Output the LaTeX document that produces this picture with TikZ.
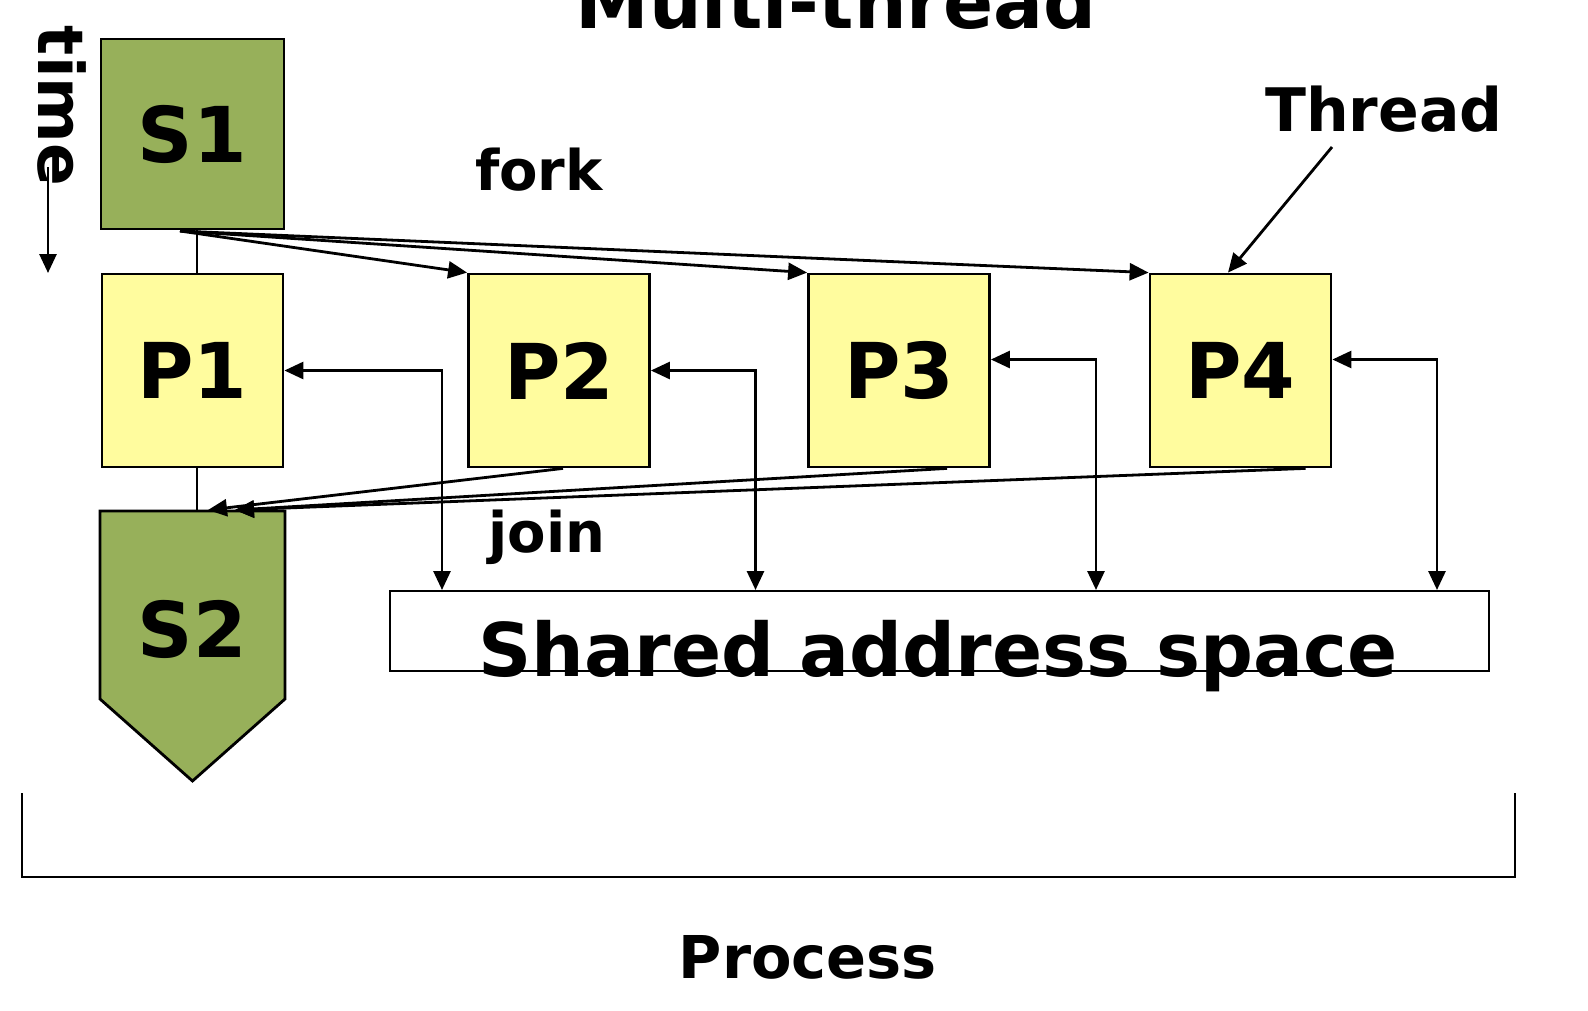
\documentclass[tikz,border=0pt]{standalone}
\usepackage{fontspec}
\setmainfont{DejaVu Sans}
\usetikzlibrary{arrows.meta}
\definecolor{seqgreen}{HTML}{97B05A}
\definecolor{thryellow}{HTML}{FFFC9E}
\begin{document}
\begin{tikzpicture}[x=1pt,y=-1pt,line width=2.8pt,
    >={Triangle[length=19pt,width=17pt]},
    seqbox/.style={draw,fill=seqgreen,minimum width=183pt,minimum height=190pt,font=\bfseries\fontsize{77}{77}\selectfont},
    thrbox/.style={draw,fill=thryellow,minimum width=181pt,minimum height=193pt,font=\bfseries\fontsize{77}{77}\selectfont},
    midlbl/.style={font=\bfseries\fontsize{56}{56}\selectfont},
    biglbl/.style={font=\bfseries\fontsize{74}{74}\selectfont}]
        \useasboundingbox (0,0) rectangle (1588,1010);

        \node (title) at (836,28) [anchor=base,biglbl] {Multi-thread};
        \node (time) at (62,106) [rotate=-90,font=\bfseries\fontsize{63}{63}\selectfont] {time};
        \coordinate (t0) at (48,167);
        \coordinate (t1) at (48,273);
        \draw[->] (t0) -- (t1);

        \node (s1) at (192.5,134) [seqbox] {S1};
        \node (p1) at (192.5,370.5) [thrbox] {P1};
        \node (p2) at (559,370.5) [thrbox] {P2};
        \node (p3) at (899,370.5) [thrbox] {P3};
        \node (p4) at (1240.5,370.5) [thrbox] {P4};

        \draw[fill=seqgreen] (100,511) -- (285,511) -- (285,699) -- (192.5,781) -- (100,699) -- cycle;
        \node (s2) at (192.5,629) [font=\bfseries\fontsize{77}{77}\selectfont] {S2};
        \coordinate (s2top) at (197,511);
        \coordinate (j1) at (208,510);
        \coordinate (j2) at (235,510);
        \coordinate (fk) at (180,231);

        \node (fork) at (539,170) [midlbl] {fork};
        \node (join) at (547,537) [midlbl] {join};

        \draw ([xshift=4.5pt]s1.south) -- ([xshift=4.5pt]p1.north);
        \draw ([xshift=4.5pt]p1.south) -- (s2top);
        \draw[->] (fk) -- (p2.north west);
        \draw[->] (fk) -- (p3.north west);
        \draw[->] (fk) -- (p4.north west);
        \draw[->] ([xshift=4pt]p2.south) -- (j1);
        \draw[->] ([xshift=48pt]p3.south) -- (j2);
        \draw[->] ([xshift=65pt]p4.south) -- (j2);

        \node (shared) at (939.5,631) [draw,minimum width=1099pt,minimum height=80pt] {};
        \node (satext) at (938,676) [anchor=base,biglbl] {Shared address space};
        \coordinate (m1) at (442,590);
        \coordinate (m2) at (755.5,590);
        \coordinate (m3) at (1096,590);
        \coordinate (m4) at (1437,590);
        \draw[<->] (p1.east) -| (m1);
        \draw[<->] (p2.east) -| (m2);
        \draw[<->] ([yshift=11pt]p3.east) -| (m3);
        \draw[<->] ([yshift=11pt]p4.east) -| (m4);

        \node (thread) at (1384,109) [font=\bfseries\fontsize{60}{60}\selectfont] {Thread};
        \coordinate (thr) at (1332,147);
        \draw[->] (thr) -- ([xshift=-12.5pt]p4.north);

        \draw (22,793) -- (22,877) -- (1515,877) -- (1515,793);
        \node (process) at (808,957) [font=\bfseries\fontsize{59}{59}\selectfont] {Process};
      \end{tikzpicture}
\end{document}
